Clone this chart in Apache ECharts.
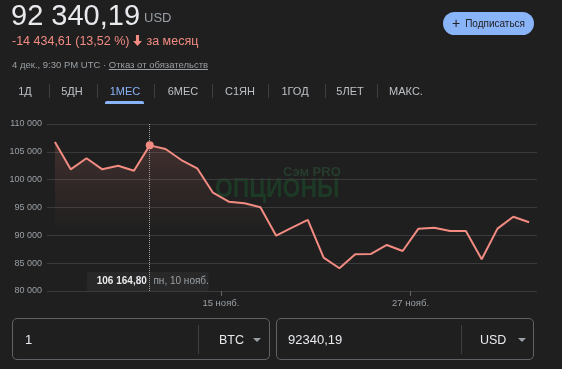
<!DOCTYPE html>
<html><head><meta charset="utf-8">
<script src="https://cdn.jsdelivr.net/npm/echarts@6/dist/echarts.min.js"></script>
<style>
html,body{margin:0;padding:0;background:#1f1f1f;width:562px;height:369px;overflow:hidden;font-family:"Liberation Sans",Arial,sans-serif;}
#chart{position:absolute;left:0;top:0;width:562px;height:369px;}
.a{position:absolute;white-space:nowrap;}
.tab{position:absolute;top:84px;line-height:14px;font-size:11px;color:#bdc1c6;transform:translateX(-50%);}
.sep{position:absolute;top:84px;width:1px;height:14px;background:#3c4043;}
.box{position:absolute;top:318px;height:42px;border:1px solid #5f6368;border-radius:5px;box-sizing:border-box;}
.vsep{position:absolute;top:6px;width:1px;height:29px;background:#3c4043;}
.inp{position:absolute;top:14px;line-height:14px;font-size:13px;color:#e8eaed;}
.tri{position:absolute;top:19px;width:0;height:0;border-left:4px solid transparent;border-right:4px solid transparent;border-top:4px solid #9aa0a6;}
</style></head><body>
<div id="chart"></div>

<div class="a" style="left:11px;top:1px;font-size:29px;line-height:28px;color:#e8eaed;">92 340,19</div>
<div class="a" style="left:144px;top:11px;font-size:13px;line-height:14px;color:#9aa0a6;">USD</div>
<div class="a" style="left:12px;top:35px;font-size:12.5px;line-height:13px;color:#f28b82;">-14 434,61 (13,52 %)<svg width="11" height="11" viewBox="0 0 10 10" style="vertical-align:-1px;margin:0 3px 0 3px"><path d="M3.6 0h2.8v5.5h2.6L5 10 1 5.5h2.6z" fill="#f28b82"/></svg>за месяц</div>
<div class="a" style="left:12px;top:60px;font-size:9.5px;line-height:10px;color:#9aa0a6;">4 дек., 9:30 PM UTC · <span style="text-decoration:underline;">Отказ от обязательств</span></div>

<div class="a" style="left:443px;top:12px;width:91px;height:23px;border-radius:12px;background:#8ab4f8;color:#202124;font-size:10px;line-height:23px;text-align:center;"><span style="font-size:14px;vertical-align:-1px;margin-right:5px;">+</span>Подписаться</div>

<div class="tab" style="left:25px;">1Д</div>
<div class="sep" style="left:49px;"></div>
<div class="tab" style="left:72px;">5ДН</div>
<div class="sep" style="left:97px;"></div>
<div class="tab" style="left:125px;color:#8ab4f8;">1МЕС</div>
<div class="sep" style="left:154px;"></div>
<div class="tab" style="left:183px;">6МЕС</div>
<div class="sep" style="left:212px;"></div>
<div class="tab" style="left:240px;">С1ЯН</div>
<div class="sep" style="left:268px;"></div>
<div class="tab" style="left:295px;">1ГОД</div>
<div class="sep" style="left:325px;"></div>
<div class="tab" style="left:350px;">5ЛЕТ</div>
<div class="sep" style="left:377px;"></div>
<div class="tab" style="left:406px;">МАКС.</div>
<div class="a" style="left:105px;top:101px;width:39px;height:3px;border-radius:2px 2px 0 0;background:#8ab4f8;"></div>

<div class="box" style="left:12px;width:258px;">
  <div class="inp" style="left:12px;">1</div>
  <div class="vsep" style="left:185px;"></div>
  <div class="inp" style="left:206px;font-size:12.5px;">BTC</div>
  <div class="tri" style="left:240px;"></div>
</div>
<div class="box" style="left:276px;width:258px;">
  <div class="inp" style="left:11px;">92340,19</div>
  <div class="vsep" style="left:184px;"></div>
  <div class="inp" style="left:203px;font-size:12.5px;">USD</div>
  <div class="tri" style="left:241px;"></div>
</div>

<script>
const dates = ['2025-11-04','2025-11-05','2025-11-06','2025-11-07','2025-11-08','2025-11-09','2025-11-10','2025-11-11','2025-11-12','2025-11-13','2025-11-14','2025-11-15','2025-11-16','2025-11-17','2025-11-18','2025-11-19','2025-11-20','2025-11-21','2025-11-22','2025-11-23','2025-11-24','2025-11-25','2025-11-26','2025-11-27','2025-11-28','2025-11-29','2025-11-30','2025-12-01','2025-12-02','2025-12-03','2025-12-04'];
const prices = [106770,101860,103840,101860,102510,101610,106164.80,105500,103530,102040,97660,96050,95760,95040,89940,91380,92760,85990,84080,86600,86650,88270,87190,91200,91380,90780,90780,85700,91200,93350,92340.19];
const xTickDates = ['2025-11-15','2025-11-27'];
const xTickLabels = ['15 нояб.','27 нояб.'];
const hoverIndex = 6;
const hoverDateLabel = 'пн, 10 нояб.';
const axisStart = '2025-11-04', axisEnd = '2025-12-05';

const noon = d => Date.parse(d + 'T12:00:00Z');
const midnight = d => Date.parse(d + 'T00:00:00Z');
const fmtInt = v => String(Math.round(v)).replace(/\B(?=(\d{3})+(?!\d))/g, ' ');
const fmtDec = v => { const p = v.toFixed(2).split('.'); return fmtInt(+p[0]) + ',' + p[1]; };
const tickMap = {}; xTickDates.forEach((d,i)=>{ tickMap[midnight(d)] = xTickLabels[i]; });

const seriesData = dates.map((d,i) => i === hoverIndex
  ? {value:[noon(d), prices[i]], symbol:'circle', symbolSize:8, itemStyle:{color:'#f28b82'}}
  : {value:[noon(d), prices[i]], symbol:'none'});

const watermark = [
  {type:'text',x:283,y:166,z:0,style:{text:'Сэм PRO',fill:'#263d2e',font:'bold 13px "Liberation Sans", Arial'}},
  {type:'text',x:215,y:176,scaleX:0.85,z:0,style:{text:'ОПЦИОНЫ',fill:'#1c3a25',font:'bold 27px "Liberation Sans", Arial'}}
];

const chart = echarts.init(document.getElementById('chart'), null, {renderer:'canvas'});
chart.setOption({
  animation:false,
  backgroundColor:'transparent',
  grid:{left:47,right:25,top:124,bottom:78,containLabel:false,outerBoundsMode:'none'},
  xAxis:{type:'value',min:midnight(axisStart),max:midnight(axisEnd),
    axisLine:{show:false},splitLine:{show:false},
    axisTick:{show:true,customValues:xTickDates.map(midnight),length:5,lineStyle:{color:'#5f6368'}},
    axisLabel:{customValues:xTickDates.map(midnight),formatter:v=>tickMap[v]||'',color:'#9aa0a6',fontSize:9.5,margin:7,fontFamily:'Liberation Sans, Arial'}},
  yAxis:{type:'value',min:80000,max:110000,interval:5000,
    axisLine:{show:false},axisTick:{show:false},
    splitLine:{lineStyle:{color:'#3a3a3a',width:1}},
    axisLabel:{formatter:v=>fmtInt(v),color:'#9aa0a6',fontSize:9,margin:5,fontFamily:'Liberation Sans, Arial'}},
  series:[{type:'line',data:seriesData,showSymbol:true,symbol:'none',z:5,
    lineStyle:{color:'#f28b82',width:2},
    areaStyle:{color:{type:'linear',x:0,y:130,x2:0,y2:235,global:true,
      colorStops:[{offset:0,color:'rgba(242,139,130,0.26)'},{offset:1,color:'rgba(242,139,130,0)'}]}},
    markLine:{silent:true,symbol:'none',label:{show:false},
      lineStyle:{type:'dotted',color:'#9aa0a6',width:1},
      data:[{xAxis:noon(dates[hoverIndex])}]}
  }],
  graphic:watermark
});

const pt = chart.convertToPixel({gridIndex:0},[noon(dates[hoverIndex]), prices[hoverIndex]]);
const base = chart.convertToPixel({gridIndex:0},[noon(dates[hoverIndex]), 80000]);
const bw = 122, bh = 19;
chart.setOption({graphic:watermark.concat([
  {type:'group',x:pt[0]-63,y:base[1]-bh,z:100,children:[
    {type:'rect',shape:{x:0,y:0,width:bw,height:bh,r:2},style:{fill:'#282828'}},
    {type:'text',x:10,y:bh/2,style:{text:'{v|'+fmtDec(prices[hoverIndex])+'}  {d|'+hoverDateLabel+'}',verticalAlign:'middle',
      rich:{v:{fill:'#e8eaed',fontWeight:'bold',fontSize:10,fontFamily:'Liberation Sans, Arial'},
            d:{fill:'#9aa0a6',fontSize:10,fontFamily:'Liberation Sans, Arial'}}}}
  ]}
])});
</script>
</body></html>
